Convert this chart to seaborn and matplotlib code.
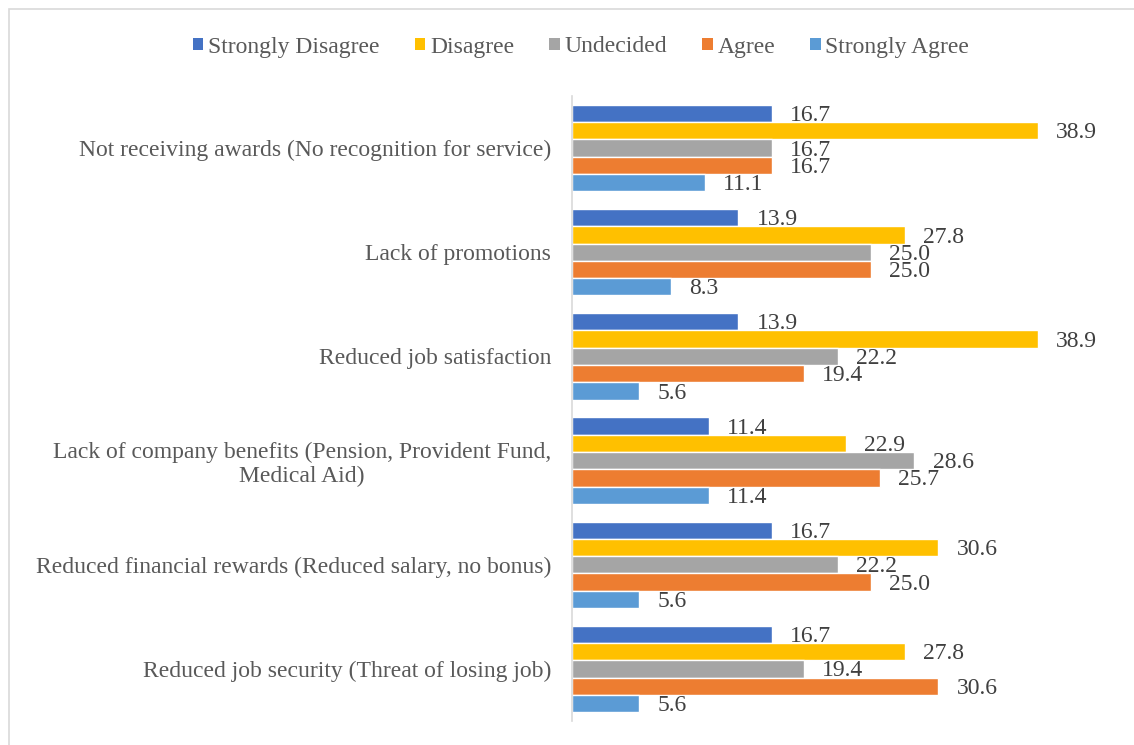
import matplotlib
matplotlib.use("Agg")
import matplotlib.pyplot as plt
import seaborn as sns
import pandas as pd
from matplotlib.patches import Rectangle, Patch

categories = [
    "Not receiving awards (No recognition for service)",
    "Lack of promotions",
    "Reduced job satisfaction",
    "Lack of company benefits (Pension, Provident Fund,\nMedical Aid)",
    "Reduced financial rewards (Reduced salary, no bonus)",
    "Reduced job security (Threat of losing job)",
]
series = ["Strongly Disagree", "Disagree", "Undecided", "Agree", "Strongly Agree"]
strongly_disagree = [16.7, 13.9, 13.9, 11.4, 16.7, 16.7]
disagree = [38.9, 27.8, 38.9, 22.9, 30.6, 27.8]
undecided = [16.7, 25.0, 22.2, 28.6, 22.2, 19.4]
agree = [16.7, 25.0, 19.4, 25.7, 25.0, 30.6]
strongly_agree = [11.1, 8.3, 5.6, 11.4, 5.6, 5.6]
colors = ["#4472C4", "#FFC000", "#A5A5A5", "#ED7D31", "#5B9BD5"]

values = [strongly_disagree, disagree, undecided, agree, strongly_agree]
rows = []
for s, vals in zip(series, values):
    for c, v in zip(categories, vals):
        rows.append({"category": c, "response": s, "value": v})
df = pd.DataFrame(rows)

sns.set_theme(style="white")
plt.rcParams["font.family"] = ["Liberation Serif", "DejaVu Serif"]

fig = plt.figure(figsize=(11.34, 7.45), dpi=100)
W, H = 1134, 745
ax = fig.add_axes([572 / W, 1 - 721 / H, (1051 - 572) / W, (721 - 96) / H])

sns.barplot(
    data=df, y="category", x="value", hue="response",
    order=categories, hue_order=series, palette=colors,
    orient="h", width=0.83, edgecolor="white", linewidth=1.0,
    saturation=1, ax=ax, legend=False,
)

# value labels just past the bar ends, nudged slightly downward
for cont in ax.containers:
    anns = ax.bar_label(cont, fmt="%.1f", padding=13, fontsize=17, color="#404040")
    for a in anns:
        a.xyann = (13, -1.5)

ax.set_xlim(0, 40)
ax.set_ylim(len(categories) - 0.5, -0.5)
ax.set_xlabel("")
ax.set_ylabel("")
ax.set_xticks([])
ax.tick_params(axis="y", length=0, pad=15, labelsize=17, labelcolor="#595959")
for lab in ax.get_yticklabels():
    lab.set_multialignment("center")
for side in ["top", "right", "bottom"]:
    ax.spines[side].set_visible(False)
ax.spines["left"].set_color("#D9D9D9")
ax.spines["left"].set_linewidth(1.2)

handles = [Patch(facecolor=c, edgecolor="none") for c in colors]
fig.legend(
    handles, series, loc="center", bbox_to_anchor=(581 / W, 1 - 47 / H),
    ncol=5, frameon=False, fontsize=17, labelcolor="#595959",
    handlelength=0.45, handleheight=0.45, handletextpad=0.2, columnspacing=1.48,
)

fig.patches.append(Rectangle((9 / W, -0.1), 1.2, 1 - 9 / H + 0.1,
                             transform=fig.transFigure, fill=False,
                             edgecolor="#D9D9D9", linewidth=1.2))

fig.savefig("out.png", dpi=100, facecolor="white")
